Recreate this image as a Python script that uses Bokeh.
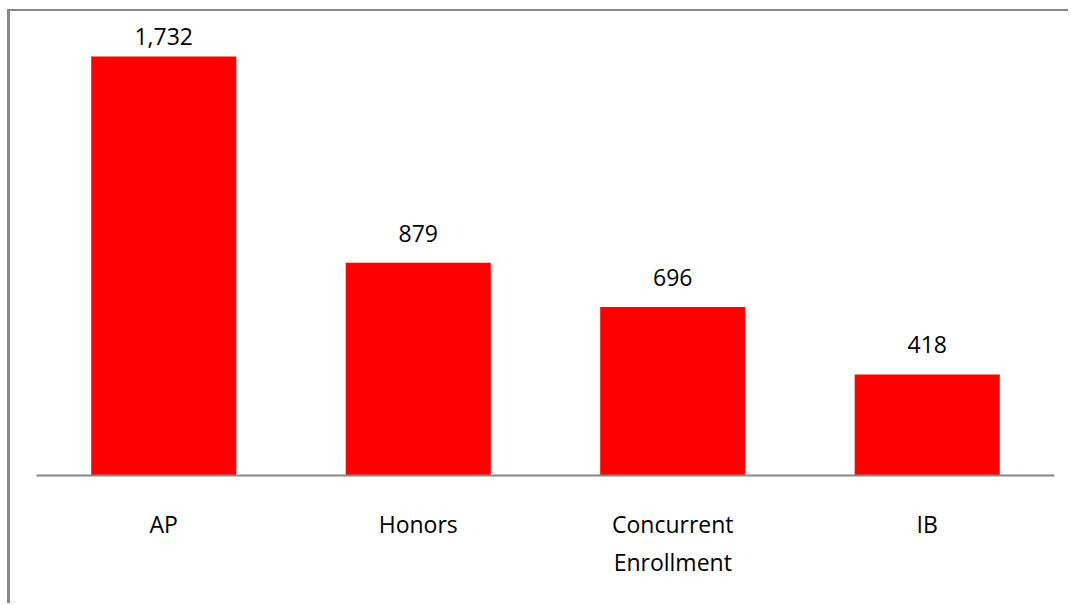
from bokeh.plotting import figure
from bokeh.models import ColumnDataSource, FactorRange, Range1d, LabelSet
from bokeh.core.properties import value
from bokeh.embed import file_html
from bokeh.resources import INLINE

categories = ["AP", "Honors", "Concurrent\nEnrollment", "IB"]
values = [1732, 879, 696, 418]
value_labels = [f"{v:,}" for v in values]

W, H = 1061, 594
Y_END = 1918
FRAME_H = H - 130          # frame height in px (min_border_bottom = 130, top = 0)
PX_PER_UNIT = FRAME_H / Y_END
LABEL_GAP = 21             # normal gap between bar top and label baseline
LABEL_ROOM = 33            # space a label needs above its baseline inside the plot area

# keep each value label inside the plot area, like the original (clamps the tallest bar's label)
offsets = [min(LABEL_GAP, (Y_END - v) * PX_PER_UNIT - LABEL_ROOM) for v in values]

src = ColumnDataSource(dict(cat=categories, val=values, lab=value_labels, off=offsets))

p = figure(x_range=FactorRange(*categories), y_range=Range1d(0, Y_END),
           width=W, height=H, output_backend="svg", toolbar_location=None,
           min_border_left=26, min_border_right=17, min_border_top=0,
           min_border_bottom=130)
p.styles = {"margin-left": "7px", "margin-top": "9px",
            "border-top": "2px solid #878787", "border-left": "3px solid #878787"}

p.vbar(x="cat", top="val", width=0.57, source=src, color="#FF0000", line_color=None)

labels = LabelSet(x="cat", y="val", text="lab", source=src, text_align="center",
                  text_baseline="alphabetic", y_offset="off", text_font=value("Open Sans"),
                  text_font_size="23px", text_color="#000000")
p.add_layout(labels)

p.yaxis.visible = False
p.xgrid.visible = False
p.ygrid.visible = False
p.outline_line_color = None
p.background_fill_color = "white"
p.border_fill_color = "white"

xa = p.xaxis[0]
xa.axis_line_color = "#878787"
xa.axis_line_width = 2
xa.major_tick_line_color = None
xa.minor_tick_line_color = None
xa.major_tick_out = 0
xa.major_tick_in = 0
xa.major_label_text_font = "Open Sans"
xa.major_label_text_font_size = "23px"
xa.major_label_text_color = "#000000"
xa.major_label_text_line_height = 1.2
xa.major_label_standoff = 32

open("out.html", "w").write(file_html(p, INLINE))
